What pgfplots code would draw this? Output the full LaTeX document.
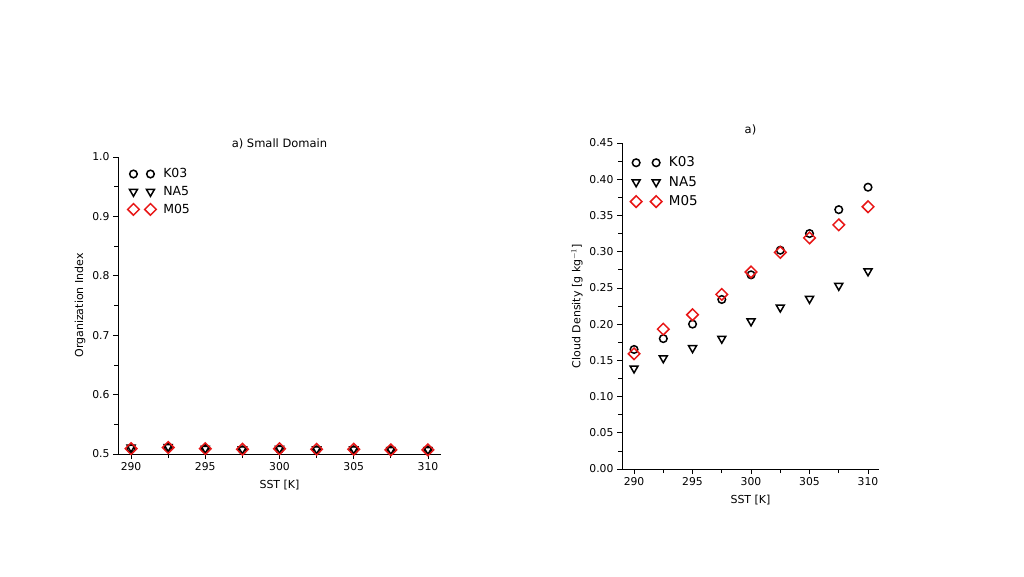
\documentclass[border=0pt]{standalone}
\usepackage{pgfplots}
\pgfplotsset{compat=1.18}
\usepackage{fontspec}
\setmainfont{DejaVu Sans}
\definecolor{mred}{RGB}{232,22,22}
\pgfplotstableread{
x k03 na5 m05
290 0.509 0.511 0.509
292.5 0.511 0.512 0.511
295 0.509 0.509 0.509
297.5 0.507 0.508 0.508
300 0.508 0.509 0.509
302.5 0.507 0.508 0.508
305 0.507 0.508 0.508
307.5 0.507 0.507 0.507
310 0.507 0.507 0.507
}\smalltab
\pgfplotstableread{
x k03 na5 m05
290 0.165 0.139 0.159
292.5 0.180 0.153 0.193
295 0.200 0.167 0.213
297.5 0.234 0.180 0.241
300 0.268 0.204 0.272
302.5 0.302 0.223 0.299
305 0.325 0.235 0.319
307.5 0.358 0.253 0.337
310 0.389 0.273 0.362
}\cloudtab
\pgfplotsset{
  mystyle/.style={
    scale only axis,
    axis x line*=bottom, axis y line*=left,
    axis line style={-, line width=0.8pt, black},
    tick align=outside,
    major tick length=5pt, minor tick length=4pt,
    every tick/.style={black, line width=0.7pt},
    tick label style={font=\fontsize{10.8}{12}\selectfont},
    label style={font=\fontsize{11}{13}\selectfont},
    title style={font=\fontsize{11.5}{13}\selectfont},
    /pgf/number format/assume math mode=true,
    xtick={290,295,300,305,310}, minor x tick num=1,
    xticklabel style={/pgf/number format/1000 sep={}},
    xlabel style={yshift=-3pt},
    legend cell align=left,
  },
  k03/.style={only marks, mark=o, mark size=3.8pt, black, line width=1.5pt},
  na5/.style={only marks, mark=triangle, mark size=4.6pt, black, line width=1.5pt, mark options={rotate=180}},
  m05/.style={only marks, mark=square, mark size=4.1pt, mred, line width=1.5pt, mark options={rotate=45}},
}
\begin{document}
\begin{tikzpicture}
\path[use as bounding box, fill=white] (0,0) rectangle (1024pt,576pt);
\begin{axis}[mystyle,
  at={(118pt,122pt)}, anchor=south west,
  width=323pt, height=297pt,
  xmin=289.12, xmax=310.88, ymin=0.5, ymax=1.0,
  ytick={0.5,0.6,0.7,0.8,0.9,1.0}, minor y tick num=1,
  yticklabel style={/pgf/number format/.cd, fixed, fixed zerofill, precision=1},
  title={a) Small Domain}, title style={yshift=-2pt},
  xlabel={SST [K]}, ylabel={Organization Index},
  legend image code/.code={\draw[only marks] plot coordinates {(0pt,0pt) (17pt,0pt)};},
  legend style={draw=none, fill=none, at={(0.02,0.975)}, anchor=north west,
    font=\fontsize{12.5}{14}\selectfont, row sep=3pt, column sep=5pt},
]
\addplot[k03] table[x=x,y=k03]{\smalltab};
\addplot[na5] table[x=x,y=na5]{\smalltab};
\addplot[m05] table[x=x,y=m05]{\smalltab};
\legend{K03,NA5,M05}
\end{axis}
\begin{axis}[mystyle,
  at={(622pt,107pt)}, anchor=south west,
  width=257pt, height=326pt,
  xmin=288.97, xmax=310.94, ymin=0, ymax=0.45,
  ytick={0,0.05,...,0.46}, minor y tick num=1,
  yticklabel style={/pgf/number format/.cd, fixed, fixed zerofill, precision=2},
  title={a)}, title style={yshift=-2pt},
  xlabel={SST [K]}, ylabel={Cloud Density [g kg$^{-1}$]},
  legend image code/.code={\draw[only marks] plot coordinates {(0pt,0pt) (20pt,0pt)};},
  legend style={draw=none, fill=none, at={(0.02,0.97)}, anchor=north west,
    font=\fontsize{13.5}{15}\selectfont, row sep=4pt, column sep=5pt},
]
\addplot[k03] table[x=x,y=k03]{\cloudtab};
\addplot[na5] table[x=x,y=na5]{\cloudtab};
\addplot[m05] table[x=x,y=m05]{\cloudtab};
\legend{K03,NA5,M05}
\end{axis}
\end{tikzpicture}
\end{document}
